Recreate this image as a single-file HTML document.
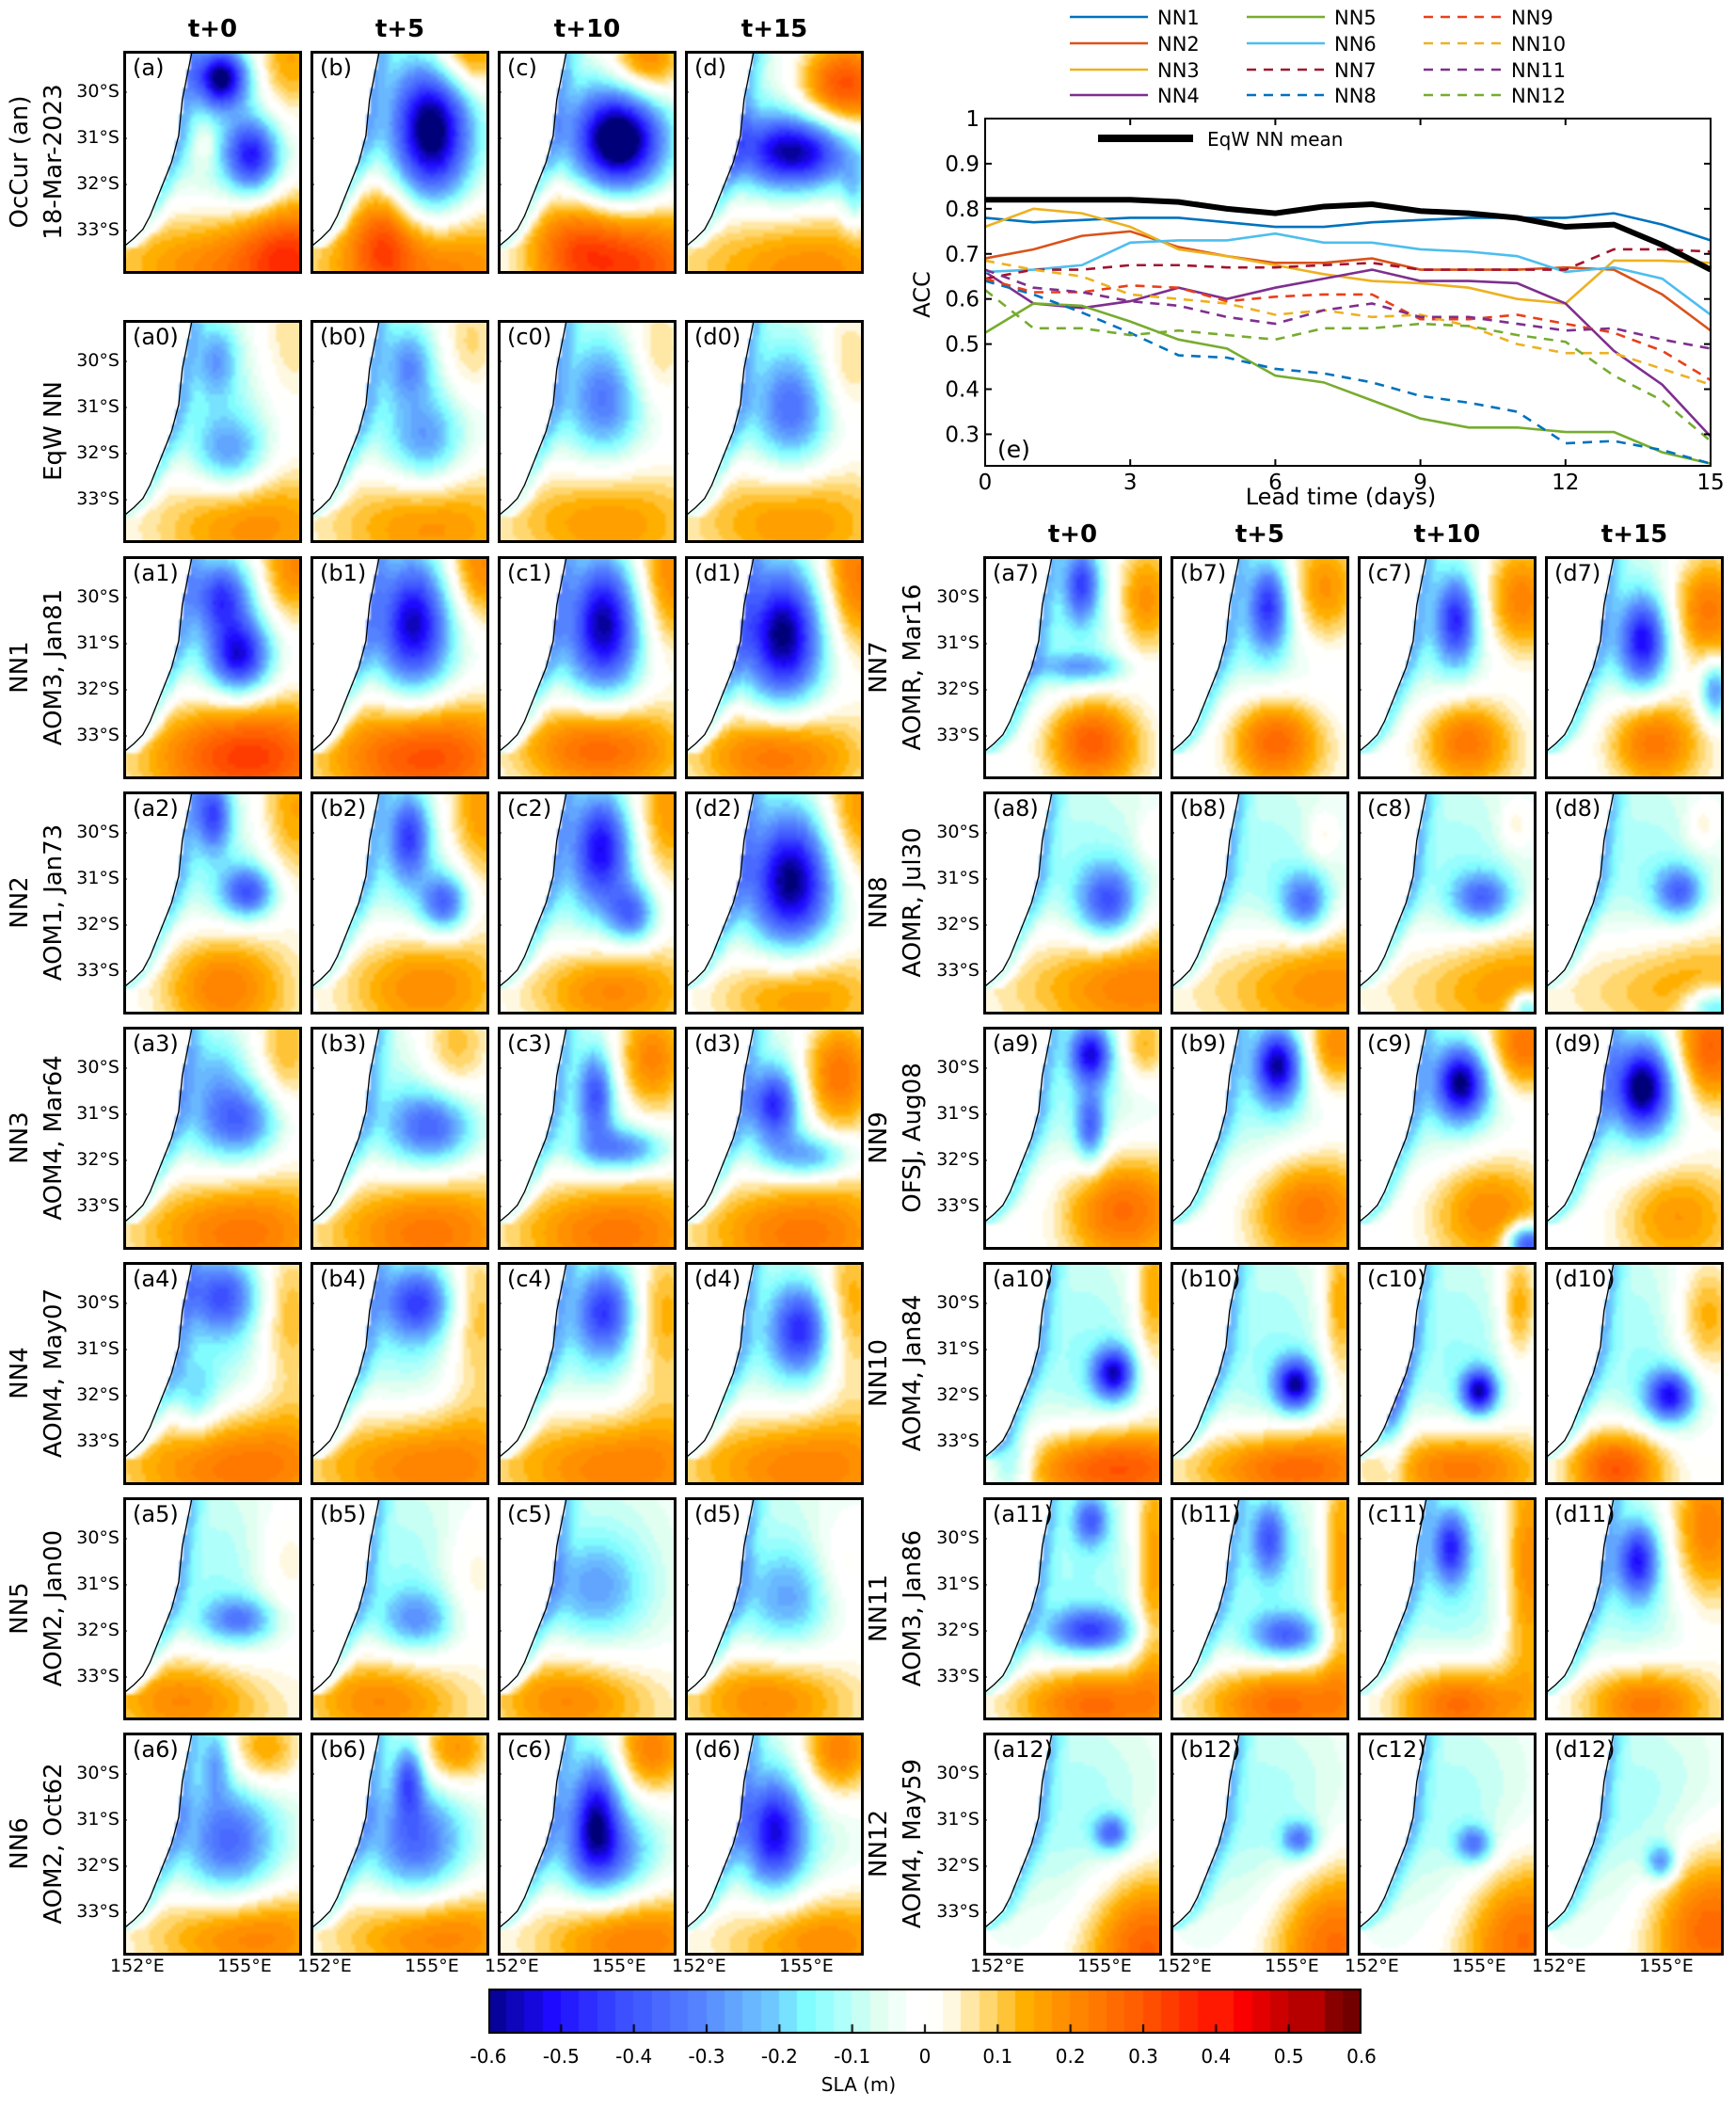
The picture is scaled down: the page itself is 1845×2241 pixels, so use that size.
<!DOCTYPE html>
<html><head><meta charset="utf-8">
<style>
body{margin:0;background:#fff;}
#root{position:relative;width:1845px;height:2241px;overflow:hidden;font-family:"Liberation Sans","DejaVu Sans",sans-serif;color:#000;}
.abs{position:absolute;}
.panel{position:absolute;width:190px;height:237px;}
.panel canvas{position:absolute;left:0;top:0;width:190px;height:237px;}
.panel svg{position:absolute;left:0;top:0;}
.plab{position:absolute;left:10px;top:4px;font-size:24px;font-family:"DejaVu Sans",sans-serif;}
.hdr{position:absolute;font-weight:bold;font-size:26px;font-family:"DejaVu Sans",sans-serif;text-align:center;width:190px;}
.lat{position:absolute;font-size:19px;font-family:"DejaVu Sans",sans-serif;text-align:right;width:60px;}
.lon{position:absolute;font-size:19px;font-family:"DejaVu Sans",sans-serif;}
.rlab{position:absolute;font-size:26px;font-family:"DejaVu Sans",sans-serif;white-space:nowrap;transform:translate(-50%,-50%) rotate(-90deg);}
</style></head>
<body>
<div id="root">
<svg id="chart" class="abs" style="left:0;top:0" width="1845" height="560"></svg>
<div id="maps"></div>
<div id="cbar" class="abs" style="left:519px;top:2113px;width:928px;height:48px;"></div>
<div class="abs" style="left:0;top:2203px;width:1845px;text-align:center;font-size:20px;font-family:'DejaVu Sans',sans-serif;left:-10px">SLA (m)</div>
</div>
<script>
// ---------- ACC chart data ----------
const leadDays=[0,1,2,3,4,5,6,7,8,9,10,11,12,13,14,15];
const yTicks=[0.3,0.4,0.5,0.6,0.7,0.8,0.9,1];
const xTicks=[0,3,6,9,12,15];
const eqwMean=[0.82,0.82,0.82,0.82,0.815,0.80,0.79,0.805,0.81,0.795,0.79,0.78,0.76,0.765,0.72,0.665];
const nn1=[0.78,0.77,0.775,0.78,0.78,0.77,0.76,0.76,0.77,0.775,0.78,0.78,0.78,0.79,0.765,0.73];
const nn2=[0.69,0.71,0.74,0.75,0.715,0.695,0.68,0.68,0.69,0.665,0.665,0.665,0.67,0.665,0.61,0.53];
const nn3=[0.76,0.80,0.79,0.76,0.71,0.695,0.675,0.655,0.64,0.635,0.625,0.60,0.59,0.685,0.685,0.68];
const nn4=[0.66,0.59,0.58,0.595,0.625,0.60,0.625,0.645,0.665,0.64,0.64,0.635,0.59,0.485,0.41,0.295];
const nn5=[0.525,0.59,0.585,0.55,0.51,0.49,0.43,0.415,0.375,0.335,0.315,0.315,0.305,0.305,0.26,0.235];
const nn6=[0.66,0.665,0.675,0.725,0.73,0.73,0.745,0.725,0.725,0.71,0.705,0.695,0.66,0.67,0.645,0.565];
const nn7=[0.645,0.665,0.665,0.675,0.675,0.67,0.67,0.675,0.68,0.665,0.665,0.665,0.665,0.71,0.71,0.705];
const nn8=[0.64,0.61,0.57,0.525,0.475,0.47,0.445,0.435,0.415,0.385,0.37,0.35,0.28,0.285,0.265,0.235];
const nn9=[0.645,0.615,0.615,0.63,0.625,0.595,0.605,0.61,0.61,0.555,0.555,0.565,0.545,0.525,0.485,0.42];
const nn10=[0.685,0.665,0.65,0.61,0.60,0.59,0.565,0.575,0.56,0.565,0.54,0.50,0.48,0.48,0.445,0.41];
const nn11=[0.665,0.625,0.615,0.595,0.585,0.56,0.545,0.575,0.59,0.56,0.56,0.545,0.53,0.535,0.51,0.49];
const nn12=[0.62,0.535,0.535,0.52,0.53,0.52,0.51,0.535,0.535,0.545,0.54,0.52,0.505,0.43,0.375,0.285];
const seriesNames=["NN1","NN2","NN3","NN4","NN5","NN6","NN7","NN8","NN9","NN10","NN11","NN12"];
const seriesVals=[nn1,nn2,nn3,nn4,nn5,nn6,nn7,nn8,nn9,nn10,nn11,nn12];
const seriesColors=["#0072bd","#d95319","#edb120","#7e2f8e","#77ac30","#4dbeee","#a2142f","#0072bd","#e8401a","#edb120","#7e2f8e","#77ac30"];
const seriesDash=[0,0,0,0,0,0,1,1,1,1,1,1];

const NS="http://www.w3.org/2000/svg";
const ax={l:1047,r:1818,t:126,b:495,ymin:0.23,ymax:1,xmin:0,xmax:15};
function X(v){return ax.l+(v-ax.xmin)/(ax.xmax-ax.xmin)*(ax.r-ax.l);}
function Y(v){return ax.b-(v-ax.ymin)/(ax.ymax-ax.ymin)*(ax.b-ax.t);}
const chart=document.getElementById('chart');
function sv(tag,attrs,parent){const e=document.createElementNS(NS,tag);for(const k in attrs)e.setAttribute(k,attrs[k]);(parent||chart).appendChild(e);return e;}
function stxt(x,y,s,size,anchor,parent){const e=sv('text',{x:x,y:y,'font-size':size,'text-anchor':anchor||'middle','font-family':'DejaVu Sans, sans-serif'},parent);e.textContent=s;return e;}
seriesVals.forEach((vals,i)=>{
  const p=sv('polyline',{points:vals.map((v,j)=>X(leadDays[j])+','+Y(v)).join(' '),fill:'none',stroke:seriesColors[i],'stroke-width':2.6,'stroke-dasharray':seriesDash[i]?'10,8':'none'});
  
  
});
const mean=sv('polyline',{points:eqwMean.map((v,j)=>X(leadDays[j])+','+Y(v)).join(' '),fill:'none',stroke:'#000','stroke-width':6});


const fr=sv('rect',{x:ax.l,y:ax.t,width:ax.r-ax.l,height:ax.b-ax.t,fill:'none',stroke:'#000','stroke-width':2});


yTicks.forEach(t=>{
  sv('line',{x1:ax.l,x2:ax.l+7,y1:Y(t),y2:Y(t),stroke:'#000','stroke-width':2});
  sv('line',{x1:ax.r,x2:ax.r-7,y1:Y(t),y2:Y(t),stroke:'#000','stroke-width':2});
  const e=stxt(ax.l-6,Y(t)+8,String(t),23,'end');
  
  
});
xTicks.forEach(t=>{
  sv('line',{x1:X(t),x2:X(t),y1:ax.b,y2:ax.b-7,stroke:'#000','stroke-width':2});
  sv('line',{x1:X(t),x2:X(t),y1:ax.t,y2:ax.t+7,stroke:'#000','stroke-width':2});
  const e=stxt(X(t),ax.b+25,String(t),23,'middle');
  
  
});
const xt=stxt(1425,536,'Lead time (days)',24,'middle');


const yt=stxt(0,0,'ACC',24,'middle');
yt.setAttribute('transform','translate(988,313) rotate(-90)');


const el=stxt(1060,486,'(e)',25,'start');


sv('line',{x1:1167,x2:1268,y1:147,y2:147,stroke:'#000','stroke-width':8});
const ml=stxt(1283,155,'EqW NN mean',20,'start');


const legCols=[1137,1325,1513], legRows=[18,46,74,101];
seriesNames.forEach((n,i)=>{
  const c=Math.floor(i/4), r=i%4;
  const g=sv('g',{});
  
  
  sv('line',{x1:legCols[c],x2:legCols[c]+83,y1:legRows[r],y2:legRows[r],stroke:seriesColors[i],'stroke-width':2.6,'stroke-dasharray':seriesDash[i]?'10,8':'none'},g);
  stxt(legCols[c]+93,legRows[r]+8,n,21,'start',g);
});

// ---------- Colormap ----------
const cmStops=[[-0.6,[0,0,120]],[-0.5,[30,10,255]],[-0.4,[60,80,255]],[-0.3,[85,130,255]],[-0.2,[110,200,255]],[-0.15,[128,252,255]],[-0.1,[175,255,250]],[-0.05,[225,255,240]],[0,[255,255,255]],[0.04,[255,255,250]],[0.06,[255,240,200]],[0.1,[255,215,110]],[0.15,[255,175,0]],[0.2,[255,145,0]],[0.3,[255,95,0]],[0.4,[255,25,0]],[0.45,[250,0,0]],[0.5,[205,0,0]],[0.6,[115,0,0]]];
function cmap(v){
  v=Math.max(-0.6,Math.min(0.6,v));
  v=Math.round(v/0.025)*0.025;
  for(let i=0;i<cmStops.length-1;i++){const a=cmStops[i],b=cmStops[i+1];if(v<=b[0]){const t=(v-a[0])/(b[0]-a[0]);return a[1].map((c,k)=>Math.round(c+(b[1][k]-c)*t));}}
  return cmStops[cmStops.length-1][1];
}
(function(){
  const cb=document.getElementById('cbar');
  const cv=document.createElement('canvas');cv.width=928;cv.height=48;cv.style.cssText='position:absolute;left:0;top:0;';
  cb.appendChild(cv);const ctx=cv.getContext('2d');
  for(let i=0;i<48;i++){const v=-0.6+(i+0.5)*0.025;const c=cmap(v);ctx.fillStyle='rgb('+c+')';ctx.fillRect(Math.floor(i*928/48),0,Math.ceil(928/48)+1,48);}
  ctx.strokeStyle='#000';ctx.lineWidth=2;ctx.strokeRect(1,1,926,46);
  const ticks=[-0.6,-0.5,-0.4,-0.3,-0.2,-0.1,0,0.1,0.2,0.3,0.4,0.5,0.6];
  ticks.forEach(t=>{const x=(t+0.6)/1.2*928;ctx.beginPath();ctx.moveTo(x,48);ctx.lineTo(x,38);ctx.stroke();
    const d=document.createElement('div');d.className='abs';d.style.cssText='left:'+(x-40)+'px;top:60px;width:80px;text-align:center;font-size:20px;font-family:"DejaVu Sans",sans-serif;';
    d.textContent=String(t);
    
    
    cb.appendChild(d);});
})();

// ---------- Map panels ----------
const BG=[0.55,0.45,0.28,0.35,-0.12];
const SE=[0.85,1.0,0.3,0.25,0.04];
const panels={
a:[[0.55,0.12,0.09,0.08,-0.55],[0.72,0.47,0.09,0.1,-0.42],[0.92,0.05,0.12,0.15,0.2],[0.55,0.95,0.35,0.15,0.25],[0.95,0.92,0.15,0.15,0.2],[0.46,0.42,0.04,0.06,0.1]],
b:[[0.68,0.35,0.13,0.2,-0.55],[0.85,0.02,0.12,0.1,0.28],[0.4,0.8,0.1,0.15,0.2],[0.6,0.95,0.35,0.15,0.25]],
c:[[0.68,0.4,0.15,0.14,-0.62],[0.82,0.05,0.12,0.1,0.28],[0.75,0.95,0.25,0.15,0.32],[0.4,0.85,0.15,0.15,0.2]],
d:[[0.62,0.45,0.2,0.1,-0.5],[0.88,0.16,0.15,0.12,0.38],[0.6,0.95,0.35,0.15,0.22],[0.95,0.65,0.05,0.1,-0.15]],
a0:[[0.6,0.6,0.12,0.1,-0.22],[0.52,0.18,0.07,0.1,-0.18],[0.92,0.12,0.12,0.2,0.12],[0.65,0.9,0.3,0.15,0.22]],
b0:[[0.65,0.55,0.12,0.12,-0.2],[0.55,0.2,0.08,0.1,-0.2],[0.88,0.12,0.1,0.15,0.14],[0.6,0.9,0.3,0.15,0.22]],
c0:[[0.6,0.35,0.12,0.15,-0.22],[0.88,0.15,0.1,0.15,0.14],[0.55,0.88,0.3,0.15,0.22]],
d0:[[0.6,0.4,0.12,0.15,-0.24],[0.9,0.2,0.1,0.15,0.14],[0.55,0.88,0.3,0.15,0.22]],
a1:[[0.55,0.18,0.1,0.1,-0.35],[0.65,0.45,0.1,0.1,-0.45],[0.95,0.05,0.12,0.15,0.25],[0.65,0.88,0.3,0.15,0.38]],
b1:[[0.58,0.3,0.12,0.18,-0.45],[0.95,0.05,0.12,0.15,0.25],[0.6,0.88,0.3,0.15,0.36]],
c1:[[0.6,0.3,0.12,0.18,-0.48],[0.95,0.1,0.12,0.2,0.25],[0.55,0.85,0.25,0.12,0.33]],
d1:[[0.55,0.35,0.13,0.18,-0.5],[0.95,0.1,0.12,0.2,0.28],[0.5,0.88,0.25,0.12,0.3]],
a2:[[0.5,0.1,0.06,0.1,-0.35],[0.7,0.45,0.09,0.07,-0.35],[0.95,0.1,0.12,0.2,0.2],[0.55,0.85,0.2,0.15,0.28]],
b2:[[0.55,0.2,0.07,0.12,-0.35],[0.75,0.5,0.08,0.08,-0.35],[0.95,0.1,0.12,0.2,0.22],[0.6,0.85,0.25,0.15,0.25]],
c2:[[0.58,0.25,0.1,0.15,-0.42],[0.75,0.55,0.08,0.08,-0.3],[0.95,0.1,0.12,0.2,0.22],[0.6,0.88,0.25,0.12,0.25]],
d2:[[0.6,0.4,0.14,0.18,-0.5],[0.95,0.1,0.12,0.2,0.22],[0.6,0.9,0.25,0.12,0.22]],
a3:[[0.65,0.42,0.14,0.1,-0.28],[0.9,0.1,0.1,0.2,0.18],[0.6,0.9,0.3,0.15,0.28],[0.5,0.2,0.1,0.1,-0.1]],
b3:[[0.68,0.45,0.14,0.1,-0.3],[0.8,0.1,0.12,0.15,0.18],[0.6,0.9,0.3,0.15,0.28]],
c3:[[0.55,0.3,0.06,0.12,-0.32],[0.7,0.55,0.15,0.06,-0.28],[0.85,0.15,0.12,0.15,0.28],[0.6,0.9,0.3,0.15,0.28]],
d3:[[0.5,0.35,0.08,0.1,-0.38],[0.7,0.58,0.15,0.06,-0.25],[0.85,0.22,0.12,0.15,0.32],[0.6,0.9,0.3,0.15,0.28]],
a4:[[0.55,0.15,0.12,0.1,-0.32],[0.92,0.25,0.1,0.2,0.18],[0.6,0.9,0.35,0.15,0.28],[0.4,0.6,0.08,0.1,-0.15]],
b4:[[0.6,0.18,0.12,0.1,-0.35],[0.92,0.25,0.1,0.2,0.18],[0.6,0.9,0.35,0.15,0.26]],
c4:[[0.6,0.22,0.1,0.12,-0.35],[0.92,0.25,0.1,0.2,0.2],[0.6,0.9,0.35,0.15,0.26]],
d4:[[0.65,0.3,0.1,0.12,-0.38],[0.92,0.2,0.1,0.2,0.2],[0.6,0.9,0.35,0.15,0.26]],
a5:[[0.65,0.55,0.12,0.06,-0.25],[0.35,0.9,0.25,0.12,0.25],[0.9,0.3,0.1,0.15,0.1]],
b5:[[0.6,0.55,0.12,0.08,-0.2],[0.4,0.9,0.25,0.12,0.25],[0.9,0.35,0.1,0.15,0.1]],
c5:[[0.55,0.4,0.15,0.12,-0.15],[0.4,0.9,0.25,0.12,0.25]],
d5:[[0.6,0.45,0.15,0.12,-0.15],[0.45,0.9,0.25,0.12,0.25],[0.85,0.35,0.1,0.15,0.1]],
a6:[[0.6,0.5,0.15,0.15,-0.25],[0.52,0.12,0.05,0.1,-0.2],[0.78,0.08,0.12,0.1,0.22],[0.65,0.9,0.3,0.12,0.25]],
b6:[[0.6,0.5,0.15,0.15,-0.25],[0.55,0.2,0.05,0.1,-0.3],[0.8,0.08,0.12,0.1,0.25],[0.65,0.9,0.3,0.12,0.25]],
c6:[[0.55,0.35,0.08,0.15,-0.38],[0.6,0.55,0.15,0.12,-0.25],[0.85,0.08,0.12,0.12,0.28],[0.7,0.92,0.3,0.12,0.25]],
d6:[[0.5,0.45,0.1,0.15,-0.42],[0.85,0.08,0.12,0.12,0.28],[0.7,0.92,0.3,0.12,0.22]],
a7:[[0.55,0.12,0.06,0.1,-0.35],[0.55,0.5,0.15,0.04,-0.2],[0.9,0.2,0.1,0.15,0.25],[0.6,0.82,0.15,0.12,0.35]],
b7:[[0.55,0.22,0.07,0.12,-0.38],[0.85,0.15,0.12,0.15,0.25],[0.58,0.82,0.15,0.12,0.33]],
c7:[[0.55,0.28,0.07,0.12,-0.38],[0.9,0.2,0.12,0.15,0.28],[0.6,0.82,0.15,0.12,0.3]],
d7:[[0.55,0.38,0.08,0.12,-0.42],[0.9,0.25,0.12,0.15,0.3],[0.6,0.82,0.15,0.12,0.3],[0.95,0.6,0.05,0.08,-0.3]],
a8:[[0.7,0.5,0.1,0.1,-0.35],[0.75,0.85,0.35,0.15,0.25],[0.95,0.2,0.05,0.06,0.08]],
b8:[[0.75,0.5,0.08,0.08,-0.3],[0.75,0.85,0.35,0.15,0.22],[0.85,0.2,0.05,0.06,0.1]],
c8:[[0.7,0.48,0.1,0.07,-0.3],[0.75,0.85,0.35,0.15,0.2],[0.88,0.15,0.05,0.06,0.1],[0.95,0.98,0.06,0.05,-0.3]],
d8:[[0.75,0.45,0.08,0.07,-0.3],[0.7,0.85,0.35,0.15,0.18],[0.88,0.15,0.05,0.06,0.1],[0.95,0.98,0.1,0.06,-0.3]],
a9:[[0.6,0.12,0.07,0.08,-0.45],[0.6,0.45,0.05,0.1,-0.3],[0.75,0.8,0.2,0.15,0.3],[0.9,0.08,0.08,0.1,0.18]],
b9:[[0.6,0.17,0.08,0.1,-0.5],[0.75,0.8,0.2,0.15,0.28],[0.92,0.08,0.1,0.12,0.25]],
c9:[[0.58,0.25,0.09,0.1,-0.52],[0.7,0.8,0.2,0.15,0.25],[0.92,0.08,0.12,0.12,0.3],[0.95,0.97,0.07,0.05,-0.5]],
d9:[[0.55,0.27,0.1,0.12,-0.55],[0.7,0.82,0.2,0.15,0.22],[0.92,0.1,0.12,0.15,0.33]],
a10:[[0.73,0.5,0.07,0.07,-0.48],[0.7,0.92,0.3,0.1,0.33],[0.95,0.15,0.06,0.2,0.2],[0.15,0.9,0.08,0.1,-0.2]],
b10:[[0.7,0.55,0.07,0.07,-0.5],[0.65,0.92,0.3,0.1,0.3],[0.95,0.2,0.06,0.2,0.2]],
c10:[[0.68,0.58,0.06,0.06,-0.5],[0.55,0.92,0.25,0.1,0.28],[0.9,0.2,0.06,0.15,0.2],[0.2,0.5,0.05,0.3,-0.15]],
d10:[[0.7,0.6,0.08,0.07,-0.45],[0.4,0.92,0.15,0.1,0.35],[0.9,0.25,0.1,0.15,0.2]],
a11:[[0.6,0.1,0.06,0.07,-0.3],[0.6,0.6,0.14,0.06,-0.35],[0.95,0.3,0.06,0.3,0.22],[0.6,0.92,0.25,0.1,0.3]],
b11:[[0.55,0.18,0.06,0.1,-0.3],[0.65,0.62,0.12,0.06,-0.3],[0.95,0.3,0.06,0.3,0.22],[0.6,0.92,0.25,0.1,0.3]],
c11:[[0.52,0.22,0.06,0.1,-0.38],[0.95,0.3,0.08,0.3,0.25],[0.55,0.92,0.2,0.1,0.3]],
d11:[[0.52,0.28,0.07,0.1,-0.4],[0.9,0.15,0.12,0.2,0.28],[0.55,0.92,0.2,0.1,0.28]],
a12:[[0.72,0.45,0.06,0.05,-0.3],[0.9,0.95,0.2,0.2,0.28]],
b12:[[0.72,0.48,0.06,0.05,-0.28],[0.9,0.92,0.2,0.2,0.26]],
c12:[[0.65,0.5,0.06,0.05,-0.28],[0.9,0.9,0.2,0.2,0.26]],
d12:[[0.65,0.58,0.05,0.05,-0.28],[0.9,0.85,0.2,0.2,0.28]]
};
const coast=[[0.385,0],[0.36,0.1],[0.33,0.22],[0.31,0.38],[0.27,0.5],[0.22,0.6],[0.15,0.74],[0.11,0.8],[0.06,0.84],[0,0.88]];
function coastX(y){for(let i=0;i<coast.length-1;i++){const a=coast[i],b=coast[i+1];if(y<=b[1]){return a[0]+(b[0]-a[0])*(y-a[1])/(b[1]-a[1]);}}return -1;}
const W=190,H=237;
const leftCols=[131,330,529,728], rightCols=[1045,1244,1443,1642];
const rowTops=[54,340,591,841,1091,1341,1591,1841];
const maps=document.getElementById('maps');
function mk(cls,style,text,parent){const d=document.createElement('div');d.className=cls;d.style.cssText=style;if(text!==undefined)d.textContent=text;(parent||maps).appendChild(d);return d;}
function drawPanel(id,x,y){
  const p=mk('panel','left:'+x+'px;top:'+y+'px;');
  
  
  const cv=document.createElement('canvas');const cw=48,ch=60;cv.width=cw;cv.height=ch;p.appendChild(cv);
  const ctx=cv.getContext('2d');const img=ctx.createImageData(cw,ch);
  const blobs=[BG,SE].concat(panels[id]);
  for(let j=0;j<ch;j++)for(let i=0;i<cw;i++){
    const u=(i+0.5)/cw,v=(j+0.5)/ch;let c=[255,255,255];
    const cx=coastX(v);
    if(u>cx){let s=0;blobs.forEach(b=>{const f=b[4]>0?1.3:1.15;const dx=(u-b[0])/(b[2]*f),dy=(v-b[1])/(b[3]*f);s+=b[4]*Math.exp(-0.5*(dx*dx+dy*dy));});
      const dc=u-cx; s+=-0.14*Math.exp(-0.5*(dc/0.05)*(dc/0.05));
      c=cmap(s);}
    const k=(j*cw+i)*4;img.data[k]=c[0];img.data[k+1]=c[1];img.data[k+2]=c[2];img.data[k+3]=255;}
  ctx.putImageData(img,0,0);
  const s=document.createElementNS(NS,'svg');s.setAttribute('width',W);s.setAttribute('height',H);p.appendChild(s);
  let d='M'+coast.map(q=>(q[0]*W).toFixed(1)+','+(q[1]*H).toFixed(1)).join(' L');
  const path=document.createElementNS(NS,'path');path.setAttribute('d',d);path.setAttribute('fill','none');path.setAttribute('stroke','#000');path.setAttribute('stroke-width','1.3');s.appendChild(path);
  [44,93,142,191].forEach(t=>{const l=document.createElementNS(NS,'line');l.setAttribute('x1',0);l.setAttribute('x2',4);l.setAttribute('y1',t);l.setAttribute('y2',t);l.setAttribute('stroke','#000');s.appendChild(l);});
  const r=document.createElementNS(NS,'rect');r.setAttribute('x',1.5);r.setAttribute('y',1.5);r.setAttribute('width',W-3);r.setAttribute('height',H-3);r.setAttribute('fill','none');r.setAttribute('stroke','#000');r.setAttribute('stroke-width','3');s.appendChild(r);
  const lb=mk('plab','','('+id+')',p);
  
  
}
const colL=['a','b','c','d'];
const leftRowSuffix=['','0','1','2','3','4','5','6'];
leftRowSuffix.forEach((s,r)=>colL.forEach((c,k)=>drawPanel(c+s,leftCols[k],rowTops[r])));
['7','8','9','10','11','12'].forEach((s,r)=>colL.forEach((c,k)=>drawPanel(c+s,rightCols[k],rowTops[r+2])));
const hdrs=['t+0','t+5','t+10','t+15'];
hdrs.forEach((h,k)=>{
  const a=mk('hdr','left:'+leftCols[k]+'px;top:16px;',h);
  
  
  const b=mk('hdr','left:'+rightCols[k]+'px;top:553px;',h);
  
  
});
const lats=['30°S','31°S','32°S','33°S'], latOff=[44,93,142,191];
function latLabels(xr,top){lats.forEach((t,i)=>{const d=mk('lat','left:'+(xr-62)+'px;top:'+(top+latOff[i]-12)+'px;',t);
  
  });}
rowTops.forEach(t=>latLabels(129,t));
rowTops.slice(2).forEach(t=>latLabels(1043,t));
[leftCols,rightCols].forEach(cols=>cols.forEach(x=>{
  const a=mk('lon','left:'+(x-14)+'px;top:2078px;','152°E');
  
  
  const b=mk('lon','left:'+(x+100)+'px;top:2078px;','155°E');
  
  
}));
const leftLabels=[['OcCur (an)','18-Mar-2023'],['','EqW NN'],['NN1','AOM3, Jan81'],['NN2','AOM1, Jan73'],['NN3','AOM4, Mar64'],['NN4','AOM4, May07'],['NN5','AOM2, Jan00'],['NN6','AOM2, Oct62']];
const rightLabels=[['NN7','AOMR, Mar16'],['NN8','AOMR, Jul30'],['NN9','OFSJ, Aug08'],['NN10','AOM4, Jan84'],['NN11','AOM3, Jan86'],['NN12','AOM4, May59']];
function rowLabel(x1,x2,top,pair){
  const cy=top+118;
  if(pair[0]){const a=mk('rlab','left:'+x1+'px;top:'+cy+'px;',pair[0]);}
  const b=mk('rlab','left:'+x2+'px;top:'+cy+'px;',pair[1]);
}
leftLabels.forEach((p,i)=>rowLabel(21,57,rowTops[i],p));
rightLabels.forEach((p,i)=>rowLabel(934,970,rowTops[i+2],p));
</script>
</body></html>
